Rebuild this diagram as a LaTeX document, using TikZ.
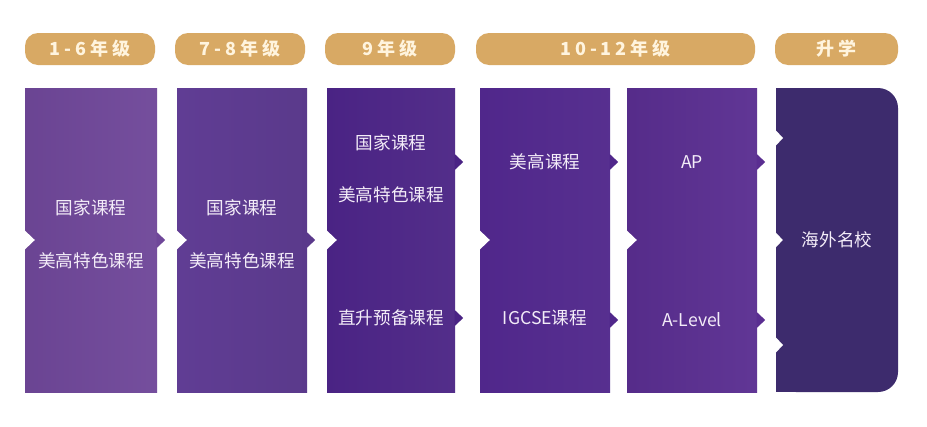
\documentclass[tikz,border=0pt]{standalone}
\usepackage{fontspec}
\setmainfont{Noto Sans CJK SC}
\usepackage{tikz}

\definecolor{gold}{HTML}{D8A964}
\definecolor{cream}{HTML}{FFF4DE}
\definecolor{lav}{HTML}{F3ECF8}
\definecolor{boxA}{HTML}{6F4799}
\definecolor{boxB}{HTML}{603D94}
\definecolor{boxC}{HTML}{4A2384}
\definecolor{boxD}{HTML}{50278B}
\definecolor{boxE}{HTML}{5A2E91}
\definecolor{boxF}{HTML}{3D2B6D}

\tikzset{
  pill/.style={rectangle, rounded corners=13pt, fill=gold, text=cream, minimum height=32pt, inner sep=0pt,
    font=\fontsize{18}{21}\selectfont\bfseries\addfontfeature{LetterSpace=22}},
  box/.style={rectangle, minimum height=304pt, inner sep=0pt},
  course/.style={text=lav, inner sep=0pt, font=\fontsize{17.6}{21}\selectfont}
}

\begin{document}
\begin{tikzpicture}[x=1pt,y=-1pt]
\fill[white] (0,0) rectangle (927,426);
\useasboundingbox (0,0) rectangle (927,426);

\node[pill, minimum width=130pt] (p1) at (90,49) {1-6年级};
\node[pill, minimum width=130pt] (p2) at (240,49) {7-8年级};
\node[pill, minimum width=130pt] (p3) at (390,49) {9年级};
\node[pill, minimum width=279pt] (p4) at (615.5,49) {10-12年级};
\node[pill, minimum width=123pt] (p5) at (836.5,49) {升学};

\node[box, minimum width=132pt, left color=boxA!96!black, right color=boxA!96!white] (b1) at (91,240) {};
\node[box, minimum width=130pt, left color=boxB, right color=boxB!94!black] (b2) at (242,240) {};
\node[box, minimum width=128pt, left color=boxC, right color=boxC!95!white] (b3) at (391,240) {};
\node[box, minimum width=130pt, left color=boxD, right color=boxD!96!white] (b4) at (545,240) {};
\node[box, minimum width=130pt, left color=boxE!95!black, right color=boxE!96!white] (b5) at (692,240) {};
\node[box, minimum width=122pt, fill=boxF, rounded corners=20pt] (b6) at (837,240) {};
\fill[boxF] (b6.north west) rectangle (b6.south);

\node[course] (t1a) at (91,208) {国家课程};
\node[course] (t1b) at (91,261) {美高特色课程};
\node[course] (t2a) at (242,208) {国家课程};
\node[course] (t2b) at (242,261) {美高特色课程};
\node[course] (t3a) at (391,143) {国家课程};
\node[course] (t3b) at (391,195) {美高特色课程};
\node[course] (t3c) at (391,318) {直升预备课程};
\node[course] (t4a) at (545,162) {美高课程};
\node[course] (t4b) at (545,318) {IGCSE课程};
\node[course] (t5a) at (692,162) {AP};
\node[course] (t5b) at (692,320) {A-Level};
\node[course] (t6) at (837,240) {海外名校};

% tips on the right
\fill[boxA] (b1.east) ++(-0.5,8) -- ++(8.5,-8) -- ++(-8.5,-8) -- cycle;
\fill[boxB!94!black] (b2.east) ++(-0.5,8) -- ++(8.5,-8) -- ++(-8.5,-8) -- cycle;
\fill[boxC] (b3.east |- t4a) ++(-0.5,8) -- ++(8.5,-8) -- ++(-8.5,-8) -- cycle;
\fill[boxC] (b3.east |- t4b) ++(-0.5,8) -- ++(8.5,-8) -- ++(-8.5,-8) -- cycle;
\fill[boxD] (b4.east |- t5a) ++(-0.5,8) -- ++(8.5,-8) -- ++(-8.5,-8) -- cycle;
\fill[boxD] (b4.east |- t5b) ++(-0.5,8) -- ++(8.5,-8) -- ++(-8.5,-8) -- cycle;
\fill[boxE] (b5.east |- t5a) ++(-0.5,8) -- ++(8.5,-8) -- ++(-8.5,-8) -- cycle;
\fill[boxE] (b5.east |- t5b) ++(-0.5,8) -- ++(8.5,-8) -- ++(-8.5,-8) -- cycle;

% notches on the left
\fill[white] (b1.west) ++(-0.5,10) -- ++(10.5,-10) -- ++(-10.5,-10) -- cycle;
\fill[white] (b2.west) ++(-0.5,10) -- ++(10.5,-10) -- ++(-10.5,-10) -- cycle;
\fill[white] (b3.west) ++(-0.5,10) -- ++(10.5,-10) -- ++(-10.5,-10) -- cycle;
\fill[white] (b4.west) ++(-0.5,10) -- ++(10.5,-10) -- ++(-10.5,-10) -- cycle;
\fill[white] (b5.west) ++(-0.5,10) -- ++(10.5,-10) -- ++(-10.5,-10) -- cycle;
\fill[white] (776,138) ++(-0.5,8) -- ++(7.5,-8) -- ++(-7.5,-8) -- cycle;
\fill[white] (b6.west) ++(-0.5,8) -- ++(7.5,-8) -- ++(-7.5,-8) -- cycle;
\fill[white] (776,345) ++(-0.5,8) -- ++(7.5,-8) -- ++(-7.5,-8) -- cycle;
\end{tikzpicture}
\end{document}
